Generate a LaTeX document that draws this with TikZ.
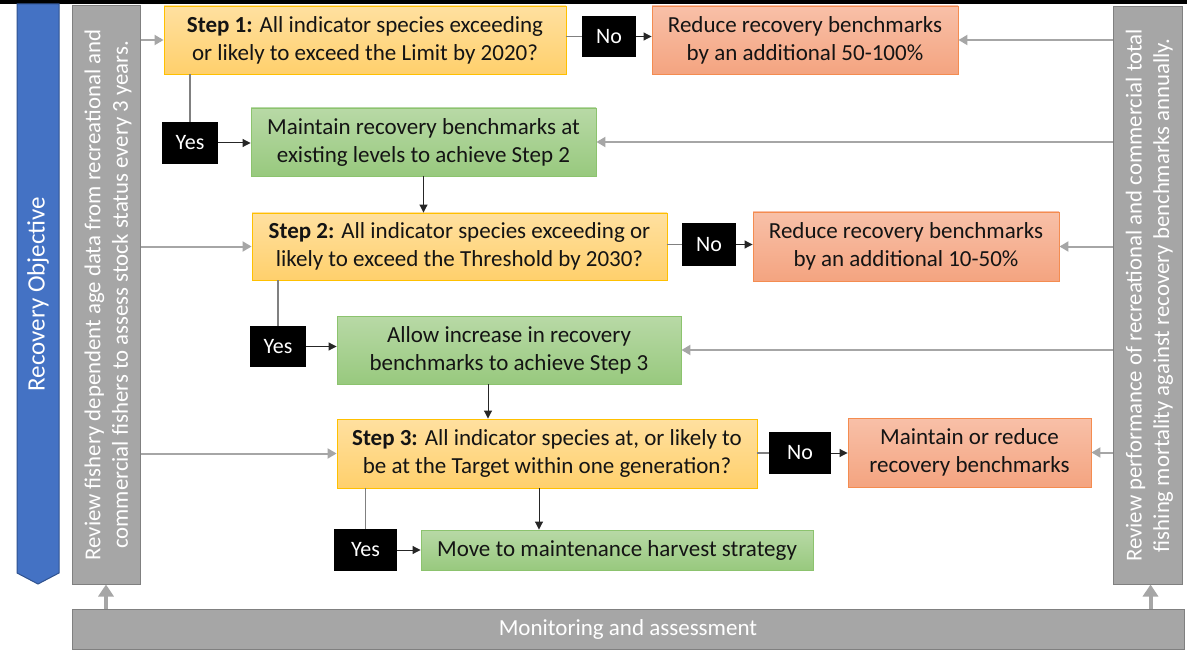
\documentclass[tikz,border=0pt]{standalone}
\usepackage{fontspec}
\setmainfont{Carlito}
\usetikzlibrary{arrows.meta}
\definecolor{stepTop}{RGB}{255,224,160}
\definecolor{stepBot}{RGB}{255,208,108}
\definecolor{stepLine}{RGB}{255,192,0}
\definecolor{grnTop}{RGB}{184,217,166}
\definecolor{grnBot}{RGB}{152,201,126}
\definecolor{grnLine}{RGB}{140,195,110}
\definecolor{orgTop}{RGB}{248,192,168}
\definecolor{orgBot}{RGB}{244,164,128}
\definecolor{orgLine}{RGB}{244,140,80}
\definecolor{gryFill}{RGB}{166,166,166}
\definecolor{gryLine}{RGB}{128,128,128}
\definecolor{gryArrow}{RGB}{166,166,166}
\definecolor{blueFill}{RGB}{68,114,196}
\definecolor{blueLine}{RGB}{47,82,143}
\definecolor{txt}{RGB}{20,20,20}
\tikzset{
  box/.style={inner sep=0pt, align=center, text=txt, line width=0.9pt,
    font=\fontsize{23}{28}\selectfont},
  stepbox/.style={box, draw=stepLine, top color=stepTop, bottom color=stepBot},
  grnbox/.style={box, draw=grnLine, top color=grnTop, bottom color=grnBot},
  orgbox/.style={box, draw=orgLine, top color=orgTop, bottom color=orgBot},
  lblbox/.style={inner sep=0pt, fill=black, text=white, font=\fontsize{22}{26}\selectfont},
  grybox/.style={inner sep=0pt, fill=gryFill, draw=gryLine, line width=1pt, text=white, align=center},
  sidetext/.style={rotate=90, text=white, align=center, font=\fontsize{22.8}{27.5}\selectfont},
  feed/.style={draw=gryArrow, line width=2pt, -{Triangle[length=9pt,width=10pt]}},
  flow/.style={draw=black!85, line width=1pt, -{Triangle[length=8pt,width=8pt]}},
  plain/.style={draw=gryLine, line width=1.2pt},
  bigup/.style={draw=gryArrow, line width=4pt, -{Triangle[length=12pt,width=15pt]}},
}
\begin{document}
\begin{tikzpicture}[x=1pt,y=-1pt]
\useasboundingbox (0,0) rectangle (1187,650);
\fill[white] (0,0) rectangle (1187,650);
\fill[black] (0,0) rectangle (1187,4);
% blue objective
\filldraw[fill=blueFill, draw=blueLine, line width=1pt] (17,4) -- (59,4) -- (59,573) -- (38,584) -- (17,573) -- cycle;
\node[rotate=90, text=white, font=\fontsize{25}{30}\selectfont] (obj) at (38,294) {Recovery Objective};
% gray side boxes
\node[grybox, minimum width=68pt, minimum height=578pt] (L) at (106,295) {};
\node[sidetext] (Lt) at ([xshift=2pt]L.center)
  {Review fishery dependent age data from recreational and\\commercial fishers to assess stock status every 3 years.};
\node[grybox, minimum width=69pt, minimum height=577pt] (R) at (1147.5,295.5) {};
\node[sidetext] (Rt) at ([xshift=2pt]R.center)
  {Review performance of recreational and commercial total\\fishing mortality against recovery benchmarks annually.};
\node[grybox, minimum width=1112pt, minimum height=40pt, font=\fontsize{23}{27}\selectfont] (B) at (628,629) {Monitoring and assessment};
% step 1
\node[stepbox, minimum width=402pt, minimum height=68pt] (s1) at (365,40)
  {\textbf{Step 1:} All indicator species exceeding\\or likely to exceed the Limit by 2020?};
\node[lblbox, minimum width=54pt, minimum height=41pt] (no1) at (609,36.5) {No};
\node[orgbox, minimum width=306pt, minimum height=68pt] (r1) at (805,40)
  {Reduce recovery benchmarks\\by an additional 50-100\%};
\node[lblbox, minimum width=56pt, minimum height=42pt] (yes1) at (190,143) {Yes};
\node[grnbox, minimum width=345pt, minimum height=68pt] (m1) at (423.5,142)
  {Maintain recovery benchmarks at\\existing levels to achieve Step 2};
% step 2
\node[stepbox, minimum width=415pt, minimum height=67pt] (s2) at (459.5,246.5)
  {\textbf{Step 2:} All indicator species exceeding or\\likely to exceed the Threshold by 2030?};
\node[lblbox, minimum width=54pt, minimum height=43pt] (no2) at (709,244.5) {No};
\node[orgbox, minimum width=306pt, minimum height=69pt] (r2) at (906,246.5)
  {Reduce recovery benchmarks\\by an additional 10-50\%};
\node[lblbox, minimum width=56pt, minimum height=41pt] (yes2) at (278,346.5) {Yes};
\node[grnbox, minimum width=344pt, minimum height=68pt] (al) at (509,350)
  {Allow increase in recovery\\benchmarks to achieve Step 3};
% step 3
\node[stepbox, minimum width=420pt, minimum height=69pt] (s3) at (547,453.5)
  {\textbf{Step 3:} All indicator species at, or likely to\\be at the Target within one generation?};
\node[lblbox, minimum width=62pt, minimum height=42pt] (no3) at (800,453) {No};
\node[orgbox, minimum width=243pt, minimum height=69pt] (mr) at (969.5,452.5)
  {Maintain or reduce\\recovery benchmarks};
\node[lblbox, minimum width=63pt, minimum height=42pt] (yes3) at (365.5,550) {Yes};
\node[grnbox, minimum width=392pt, minimum height=40pt] (mv) at (617,550)
  {Move to maintenance harvest strategy};
% feed arrows from left box
\draw[feed] (L.east |- s1.west) -- (s1.west);
\draw[feed] (L.east |- s2.west) -- (s2.west);
\draw[feed] (L.east |- s3.west) -- (s3.west);
% feed arrows from right box
\draw[feed] (R.west |- r1.east) -- (r1.east);
\draw[feed] (R.west |- m1.east) -- (m1.east);
\draw[feed] (R.west |- r2.east) -- (r2.east);
\draw[feed] (R.west |- al.east) -- (al.east);
\draw[feed] (R.west |- mr.east) -- (mr.east);
% monitoring arrows
\draw[bigup] (L.south |- B.north) -- (L.south);
\draw[bigup] ([xshift=3pt]R.south |- B.north) -- ([xshift=3pt]R.south);
% flow step 1
\draw[plain] (s1.east |- no1.west) -- (no1.west);
\draw[flow] (no1.east) -- (no1.east -| r1.west);
\draw[plain] (yes1.north |- s1.south) -- (yes1.north);
\draw[flow] (yes1.east) -- (yes1.east -| m1.west);
\draw[flow] (m1.south) -- (m1.south |- s2.north);
% flow step 2
\draw[plain] (s2.east |- no2.west) -- (no2.west);
\draw[flow] (no2.east) -- (no2.east -| r2.west);
\draw[plain] (yes2.north |- s2.south) -- (yes2.north);
\draw[flow] (yes2.east) -- (yes2.east -| al.west);
\draw[flow] ([xshift=-21pt]al.south) -- ([xshift=-21pt]al.south |- s3.north);
% flow step 3
\draw[plain] (s3.east |- no3.west) -- (no3.west);
\draw[flow] (no3.east) -- (no3.east -| mr.west);
\draw[plain] (yes3.north |- s3.south) -- (yes3.north);
\draw[flow] (yes3.east) -- (yes3.east -| mv.west);
\draw[flow] ([xshift=-8pt]s3.south) -- ([xshift=-8pt]s3.south |- mv.north);
\end{tikzpicture}
\end{document}
